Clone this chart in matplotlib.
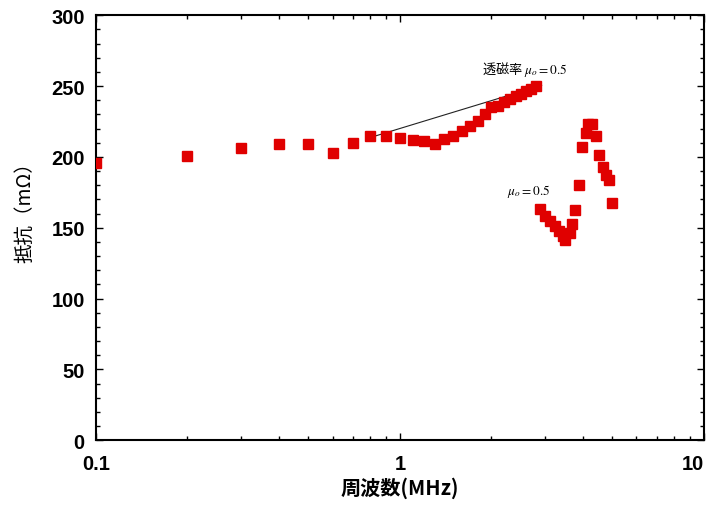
import matplotlib
matplotlib.use("Agg")
import matplotlib.pyplot as plt
from matplotlib.ticker import FixedLocator, LogLocator, MultipleLocator, NullFormatter

plt.rcParams['font.family'] = ['Liberation Sans', 'DejaVu Sans']
plt.rcParams['mathtext.fontset'] = 'stix'

# rising branch (MHz, mOhm)
freq1 = [0.1, 0.2, 0.3, 0.4, 0.5, 0.6, 0.7, 0.8, 0.9, 1.0,
         1.1, 1.2, 1.3, 1.4, 1.5, 1.6, 1.7, 1.8, 1.9, 2.0,
         2.1, 2.2, 2.3, 2.4, 2.5, 2.6, 2.7, 2.8]
res1 = [195.5, 200.5, 206, 209, 209, 202.5, 210, 215, 214.5, 213.5,
        212, 211, 209, 212.5, 215, 218.5, 221.5, 225, 230, 235,
        236, 239, 241, 243, 244.5, 246.5, 248, 250]

# dip / resonance branch
freq2 = [2.89, 3.0, 3.11, 3.24, 3.34, 3.45, 3.5, 3.62, 3.67, 3.78,
         3.88, 3.98, 4.08, 4.17, 4.3, 4.4, 4.51, 4.64, 4.76, 4.87, 4.99]
res2 = [163, 158.5, 155, 151.5, 148, 144.5, 141.5, 146.5, 152.5, 162.5,
        180, 207, 216.5, 223.5, 223.5, 215, 201.5, 192.5, 187.5, 183.5, 167.5]

# guide line to the label
line_f = [0.817, 2.925]
line_r = [214.3, 250.5]

red = '#e00000'
cjk = ['Noto Sans CJK JP', 'DejaVu Sans']

fig = plt.figure(figsize=(7.11, 5.06), dpi=100)
ax = fig.add_axes([0.135, 0.128, 0.855, 0.840])

ax.plot(line_f, line_r, color='#222222', lw=0.8, zorder=2)
ax.plot(freq1, res1, 's', color=red, ms=7.5, mec=red, zorder=3)
ax.plot(freq2, res2, 's', color=red, ms=7.5, mec=red, zorder=3)

ax.text(1.86, 262.5, '透磁率 $\\mu_o\\mathrm{=0.5}$', fontsize=9.5, family=cjk,
        va='center', ha='left')
ax.text(2.25, 176.5, '$\\mu_o\\mathrm{=0.5}$', fontsize=9.5, va='center', ha='left')

ax.set_xscale('log')
ax.set_xlim(0.1, 10)
ax.set_ylim(0, 300)
ax.xaxis.set_major_locator(FixedLocator([0.1, 1, 10]))
ax.set_xticklabels(['0.1', '1', '10'])
ax.xaxis.set_minor_locator(LogLocator(base=10, subs=range(2, 10)))
ax.xaxis.set_minor_formatter(NullFormatter())
ax.yaxis.set_major_locator(MultipleLocator(50))
ax.yaxis.set_minor_locator(MultipleLocator(10))

ax.tick_params(which='both', direction='in', top=True, right=True, width=1)
ax.tick_params(which='major', length=5)
ax.tick_params(which='minor', length=3)
ax.tick_params(axis='y', which='major', labelsize=14.5, pad=8)
ax.tick_params(axis='x', which='major', labelsize=14.5, pad=10)
for lab in ax.get_xticklabels() + ax.get_yticklabels():
    lab.set_fontweight('bold')
ax.get_xticklabels()[-1].set_horizontalalignment('right')
for sp in ax.spines.values():
    sp.set_linewidth(1.5)

ax.set_xlabel('周波数(MHz)', family=cjk, fontsize=14.5, fontweight='bold', labelpad=2)
ax.set_ylabel('抵抗（mΩ）', family=cjk, fontsize=14)
ax.yaxis.set_label_coords(-0.10, 0.55)

fig.savefig('out.png', dpi=100)
